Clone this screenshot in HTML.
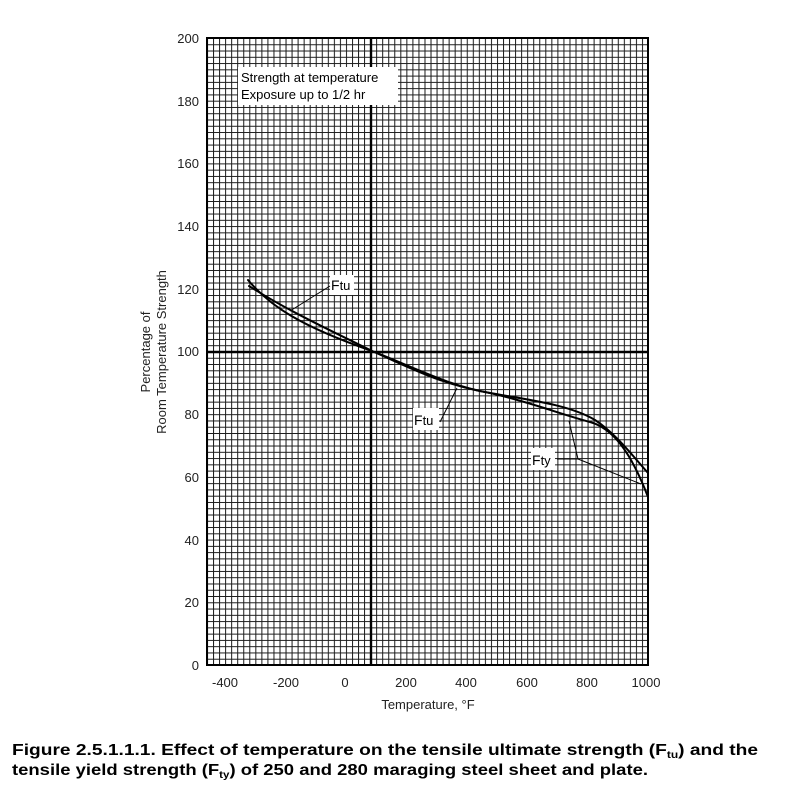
<!DOCTYPE html>
<html><head><meta charset="utf-8"><style>
body{margin:0;background:#fff;}
svg{display:block;font-family:"Liberation Sans",sans-serif;}
</style></head><body>
<svg width="800" height="790" viewBox="0 0 800 790" xmlns="http://www.w3.org/2000/svg">
<defs>
<pattern id="g" x="207" y="38" width="6.041" height="6.27" patternUnits="userSpaceOnUse">
<path d="M0.5 0 V6.27 M0 0.5 H6.041" stroke="#1a1a1a" stroke-width="1" fill="none"/>
</pattern>
</defs>
<rect x="207" y="38" width="441" height="627" fill="url(#g)"/>
<rect x="207" y="38" width="441" height="627" fill="none" stroke="#000" stroke-width="2"/>
<line x1="371" y1="38" x2="371" y2="665" stroke="#000" stroke-width="2.4"/>
<line x1="207" y1="352" x2="648" y2="352" stroke="#000" stroke-width="2.4"/>
<rect x="238" y="67" width="160" height="38" fill="#fff"/>
<text x="241" y="82" font-size="13">Strength at temperature</text>
<text x="241" y="99" font-size="13">Exposure up to 1/2 hr</text>
<g fill="none" stroke="#000" stroke-width="2" stroke-linejoin="round" stroke-linecap="round">
<path d="M249 286 C 290 312, 330 330, 372 351 C 410 368, 440 384, 490 393 C 530 400, 570 405, 595 420 C 615 433, 632 455, 648 473"/>
<path d="M248 280 C 270 306, 300 326, 372 351 C 420 370, 450 386, 490 393 C 530 402, 560 414, 590 422 C 612 428, 630 450, 648 497"/>
</g>
<rect x="330" y="275" width="24" height="20" fill="#fff"/>
<text x="331" y="290" font-size="14">F<tspan font-size="13">tu</tspan></text>
<line x1="330" y1="286" x2="290" y2="311" stroke="#000"/>
<rect x="413" y="408" width="26" height="22" fill="#fff"/>
<text x="414" y="425" font-size="14">F<tspan font-size="13">tu</tspan></text>
<line x1="440" y1="422" x2="457" y2="388" stroke="#000"/>
<rect x="531" y="448" width="24" height="22" fill="#fff"/>
<text x="532" y="465" font-size="14">F<tspan font-size="13">ty</tspan></text>
<polyline points="557,459 578,459 569,421" fill="none" stroke="#000"/>
<line x1="578" y1="459" x2="641" y2="484" stroke="#000"/>
<g font-size="13" text-anchor="end" fill="#222">
<text x="199" y="43">200</text><text x="199" y="106">180</text><text x="199" y="168">160</text>
<text x="199" y="231">140</text><text x="199" y="294">120</text><text x="199" y="356">100</text>
<text x="199" y="419">80</text><text x="199" y="482">60</text><text x="199" y="545">40</text>
<text x="199" y="607">20</text><text x="199" y="670">0</text>
</g>
<g font-size="13" text-anchor="middle" fill="#222">
<text x="225" y="687">-400</text><text x="286" y="687">-200</text><text x="345" y="687">0</text>
<text x="406" y="687">200</text><text x="466" y="687">400</text><text x="527" y="687">600</text>
<text x="587" y="687">800</text><text x="646" y="687">1000</text>
<text x="428" y="709">Temperature, °F</text>
</g>
<g font-size="13" text-anchor="middle" fill="#222">
<text transform="translate(150,352) rotate(-90)">Percentage of</text>
<text transform="translate(166,352) rotate(-90)">Room Temperature Strength</text>
</g>
<g font-size="16" font-weight="bold" fill="#000">
<text x="12" y="755" textLength="746" lengthAdjust="spacingAndGlyphs">Figure 2.5.1.1.1.  Effect of temperature on the tensile ultimate strength (F<tspan font-size="10" dy="3">tu</tspan><tspan dy="-3">) and the</tspan></text>
<text x="12" y="775" textLength="636" lengthAdjust="spacingAndGlyphs">tensile yield strength (F<tspan font-size="10" dy="3">ty</tspan><tspan dy="-3">) of 250 and 280 maraging steel sheet and plate.</tspan></text>
</g>
</svg>
</body></html>
